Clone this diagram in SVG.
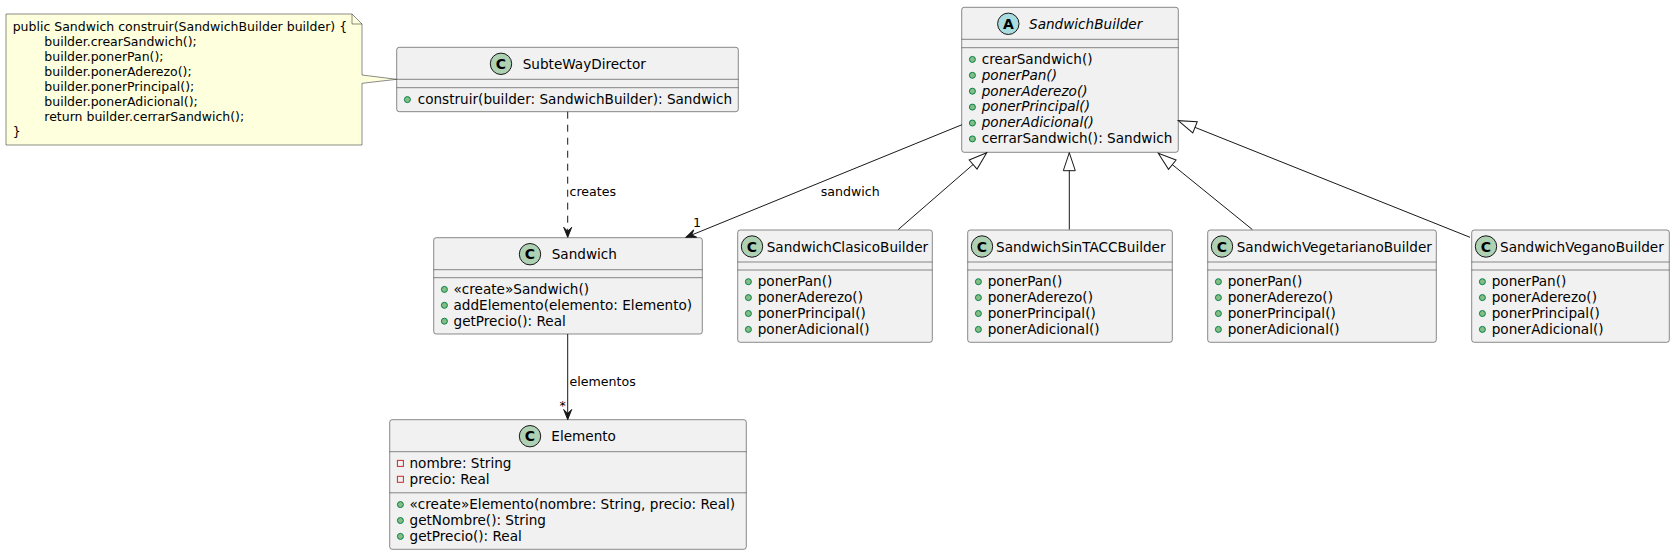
<svg xmlns="http://www.w3.org/2000/svg" width="1676" height="555" viewBox="0 0 1676 555">
<style>
.box{fill:#F1F1F1;stroke:#181818;stroke-width:0.5}
.sep{stroke:#181818;stroke-width:0.5}
.t{font-family:"DejaVu Sans","Liberation Sans",sans-serif;font-size:13.6px;fill:#000}
.i{font-style:italic}
.lbl{font-family:"DejaVu Sans","Liberation Sans",sans-serif;font-size:12.6px;fill:#000}
.nt{font-family:"DejaVu Sans","Liberation Sans",sans-serif;font-size:12.5px;fill:#000}
.dot{fill:#84BE84;stroke:#038048;stroke-width:1}
.priv{fill:none;stroke:#C82930;stroke-width:1}
.cc{fill:#ADD1B2;stroke:#181818;stroke-width:1}
.ca{fill:#A9DCDF;stroke:#181818;stroke-width:1}
.ltr{font-family:"DejaVu Sans","Liberation Sans",sans-serif;font-weight:bold;font-size:14px;text-anchor:middle;fill:#000}
.edge{stroke:#181818;stroke-width:1;fill:none}
</style>
<defs>
<marker id="arr" markerUnits="userSpaceOnUse" viewBox="0 0 12 10" refX="10" refY="5" markerWidth="12" markerHeight="10" orient="auto" overflow="visible"><path d="M10,5 L0,1 L4,5 L0,9 Z" fill="#181818" stroke="#181818" stroke-width="1"/></marker>
<marker id="tri" markerUnits="userSpaceOnUse" viewBox="0 0 20 14" refX="19" refY="7" markerWidth="20" markerHeight="14" orient="auto" overflow="visible"><path d="M19,7 L1,1 L1,13 Z" fill="#FFFFFF" stroke="#181818" stroke-width="1"/></marker>
</defs>
<rect width="1676" height="555" fill="#FFFFFF"/>

<g id="note">
<path d="M6,14 L352,14 L362,24 L362,75 L396.7,79.3 L362,83.3 L362,145 L6,145 Z" fill="#FEFFDD" stroke="#181818" stroke-width="0.5"/>
<path d="M352,14 L352,24 L362,24" fill="none" stroke="#181818" stroke-width="0.5"/>
<text class="nt" x="12.7" y="30.5">public Sandwich construir(SandwichBuilder builder) {</text>
<text class="nt" x="44.3" y="45.6">builder.crearSandwich();</text>
<text class="nt" x="44.3" y="60.7">builder.ponerPan();</text>
<text class="nt" x="44.3" y="75.8">builder.ponerAderezo();</text>
<text class="nt" x="44.3" y="90.9">builder.ponerPrincipal();</text>
<text class="nt" x="44.3" y="106">builder.ponerAdicional();</text>
<text class="nt" x="44.3" y="121.1">return builder.cerrarSandwich();</text>
<text class="nt" x="12.7" y="136.2">}</text>
</g>

<g id="SubteWayDirector">
<rect class="box" x="396.7" y="47.3" width="341.6" height="64.4" rx="2.5"/>
<circle class="cc" cx="501" cy="63.8" r="10.7"/><text class="ltr" x="501" y="68.8">C</text>
<text class="t" x="522.7" y="68.8">SubteWayDirector</text>
<line class="sep" x1="396.7" y1="79.3" x2="738.3" y2="79.3"/>
<line class="sep" x1="396.7" y1="87.7" x2="738.3" y2="87.7"/>
<circle class="dot" cx="407.4" cy="99.6" r="3"/>
<text class="t" x="417.7" y="103.8">construir(builder: SandwichBuilder): Sandwich</text>
</g>

<g id="SandwichBuilder">
<rect class="box" x="961.7" y="7.3" width="216.6" height="145" rx="2.5"/>
<circle class="ca" cx="1008.3" cy="23.8" r="10.7"/><text class="ltr" x="1008.3" y="28.8">A</text>
<text class="t i" x="1029" y="28.8">SandwichBuilder</text>
<line class="sep" x1="961.7" y1="39.3" x2="1178.3" y2="39.3"/>
<line class="sep" x1="961.7" y1="47.7" x2="1178.3" y2="47.7"/>
<circle class="dot" cx="972.4" cy="59.4" r="3"/><text class="t" x="981.7" y="63.7">crearSandwich()</text>
<circle class="dot" cx="972.4" cy="75.3" r="3"/><text class="t i" x="981.7" y="79.6">ponerPan()</text>
<circle class="dot" cx="972.4" cy="91.2" r="3"/><text class="t i" x="981.7" y="95.5">ponerAderezo()</text>
<circle class="dot" cx="972.4" cy="107.1" r="3"/><text class="t i" x="981.7" y="111.4">ponerPrincipal()</text>
<circle class="dot" cx="972.4" cy="123" r="3"/><text class="t i" x="981.7" y="127.3">ponerAdicional()</text>
<circle class="dot" cx="972.4" cy="138.9" r="3"/><text class="t" x="981.7" y="143.2">cerrarSandwich(): Sandwich</text>
</g>

<g id="Sandwich">
<rect class="box" x="433.7" y="237.7" width="268.6" height="96.3" rx="2.5"/>
<circle class="cc" cx="530" cy="254.2" r="10.7"/><text class="ltr" x="530" y="259.2">C</text>
<text class="t" x="551.7" y="259.2">Sandwich</text>
<line class="sep" x1="433.7" y1="269.7" x2="702.3" y2="269.7"/>
<line class="sep" x1="433.7" y1="277.7" x2="702.3" y2="277.7"/>
<circle class="dot" cx="444.4" cy="289.4" r="3"/><text class="t" x="453.5" y="293.7">«create»Sandwich()</text>
<circle class="dot" cx="444.4" cy="305.3" r="3"/><text class="t" x="453.5" y="309.6">addElemento(elemento: Elemento)</text>
<circle class="dot" cx="444.4" cy="321.2" r="3"/><text class="t" x="453.5" y="325.5">getPrecio(): Real</text>
</g>

<g id="Elemento">
<rect class="box" x="389.7" y="419.7" width="356.6" height="129.6" rx="2.5"/>
<circle class="cc" cx="530" cy="436.2" r="10.7"/><text class="ltr" x="530" y="441.2">C</text>
<text class="t" x="551.3" y="441.2">Elemento</text>
<line class="sep" x1="389.7" y1="451.7" x2="746.3" y2="451.7"/>
<rect class="priv" x="397.4" y="460.4" width="6" height="6"/><text class="t" x="409.5" y="467.7">nombre: String</text>
<rect class="priv" x="397.4" y="476.3" width="6" height="6"/><text class="t" x="409.5" y="483.6">precio: Real</text>
<line class="sep" x1="389.7" y1="492.8" x2="746.3" y2="492.8"/>
<circle class="dot" cx="400.4" cy="504.6" r="3"/><text class="t" x="409.5" y="508.9">«create»Elemento(nombre: String, precio: Real)</text>
<circle class="dot" cx="400.4" cy="520.5" r="3"/><text class="t" x="409.5" y="524.8">getNombre(): String</text>
<circle class="dot" cx="400.4" cy="536.4" r="3"/><text class="t" x="409.5" y="540.7">getPrecio(): Real</text>
</g>

<g id="SandwichClasicoBuilder">
<rect class="box" x="737.7" y="230" width="194.6" height="112.3" rx="2.5"/>
<circle class="cc" cx="752" cy="246.5" r="10.7"/><text class="ltr" x="752" y="251.5">C</text>
<text class="t" x="766.7" y="251.5">SandwichClasicoBuilder</text>
<line class="sep" x1="737.7" y1="262" x2="932.3" y2="262"/>
<line class="sep" x1="737.7" y1="270" x2="932.3" y2="270"/>
<circle class="dot" cx="748.4" cy="281.7" r="3"/><text class="t" x="757.7" y="286">ponerPan()</text>
<circle class="dot" cx="748.4" cy="297.6" r="3"/><text class="t" x="757.7" y="301.9">ponerAderezo()</text>
<circle class="dot" cx="748.4" cy="313.5" r="3"/><text class="t" x="757.7" y="317.8">ponerPrincipal()</text>
<circle class="dot" cx="748.4" cy="329.4" r="3"/><text class="t" x="757.7" y="333.7">ponerAdicional()</text>
</g>

<g id="SandwichSinTACCBuilder">
<rect class="box" x="967.7" y="230" width="204.6" height="112.3" rx="2.5"/>
<circle class="cc" cx="982" cy="246.5" r="10.7"/><text class="ltr" x="982" y="251.5">C</text>
<text class="t" x="996" y="251.5">SandwichSinTACCBuilder</text>
<line class="sep" x1="967.7" y1="262" x2="1172.3" y2="262"/>
<line class="sep" x1="967.7" y1="270" x2="1172.3" y2="270"/>
<circle class="dot" cx="978.4" cy="281.7" r="3"/><text class="t" x="987.7" y="286">ponerPan()</text>
<circle class="dot" cx="978.4" cy="297.6" r="3"/><text class="t" x="987.7" y="301.9">ponerAderezo()</text>
<circle class="dot" cx="978.4" cy="313.5" r="3"/><text class="t" x="987.7" y="317.8">ponerPrincipal()</text>
<circle class="dot" cx="978.4" cy="329.4" r="3"/><text class="t" x="987.7" y="333.7">ponerAdicional()</text>
</g>

<g id="SandwichVegetarianoBuilder">
<rect class="box" x="1207.7" y="230" width="228.6" height="112.3" rx="2.5"/>
<circle class="cc" cx="1222" cy="246.5" r="10.7"/><text class="ltr" x="1222" y="251.5">C</text>
<text class="t" x="1236.7" y="251.5">SandwichVegetarianoBuilder</text>
<line class="sep" x1="1207.7" y1="262" x2="1436.3" y2="262"/>
<line class="sep" x1="1207.7" y1="270" x2="1436.3" y2="270"/>
<circle class="dot" cx="1218.4" cy="281.7" r="3"/><text class="t" x="1227.7" y="286">ponerPan()</text>
<circle class="dot" cx="1218.4" cy="297.6" r="3"/><text class="t" x="1227.7" y="301.9">ponerAderezo()</text>
<circle class="dot" cx="1218.4" cy="313.5" r="3"/><text class="t" x="1227.7" y="317.8">ponerPrincipal()</text>
<circle class="dot" cx="1218.4" cy="329.4" r="3"/><text class="t" x="1227.7" y="333.7">ponerAdicional()</text>
</g>

<g id="SandwichVeganoBuilder">
<rect class="box" x="1471.7" y="230" width="197.6" height="112.3" rx="2.5"/>
<circle class="cc" cx="1486" cy="246.5" r="10.7"/><text class="ltr" x="1486" y="251.5">C</text>
<text class="t" x="1500" y="251.5">SandwichVeganoBuilder</text>
<line class="sep" x1="1471.7" y1="262" x2="1669.3" y2="262"/>
<line class="sep" x1="1471.7" y1="270" x2="1669.3" y2="270"/>
<circle class="dot" cx="1482.4" cy="281.7" r="3"/><text class="t" x="1491.7" y="286">ponerPan()</text>
<circle class="dot" cx="1482.4" cy="297.6" r="3"/><text class="t" x="1491.7" y="301.9">ponerAderezo()</text>
<circle class="dot" cx="1482.4" cy="313.5" r="3"/><text class="t" x="1491.7" y="317.8">ponerPrincipal()</text>
<circle class="dot" cx="1482.4" cy="329.4" r="3"/><text class="t" x="1491.7" y="333.7">ponerAdicional()</text>
</g>

<g id="connectors">
<line class="edge" x1="567.7" y1="111.7" x2="567.7" y2="237.3" stroke-dasharray="7,6" marker-end="url(#arr)"/>
<text class="lbl" x="569.5" y="195.5">creates</text>
<line class="edge" x1="962" y1="124.7" x2="686" y2="237.3" marker-end="url(#arr)"/>
<text class="lbl" x="820.7" y="195.7">sandwich</text>
<text class="lbl" x="693" y="226.7">1</text>
<line class="edge" x1="567.7" y1="334" x2="567.7" y2="419.5" marker-end="url(#arr)"/>
<text class="lbl" x="569.5" y="385.5">elementos</text>
<text class="lbl" x="559.5" y="410">*</text>
<line class="edge" x1="898.3" y1="229.5" x2="986.7" y2="152.7" marker-end="url(#tri)"/>
<line class="edge" x1="1069.3" y1="229.5" x2="1069.3" y2="152.7" marker-end="url(#tri)"/>
<line class="edge" x1="1252.3" y1="229.5" x2="1158.3" y2="153.3" marker-end="url(#tri)"/>
<line class="edge" x1="1470" y1="237.3" x2="1178.3" y2="120.7" marker-end="url(#tri)"/>
</g>
</svg>
